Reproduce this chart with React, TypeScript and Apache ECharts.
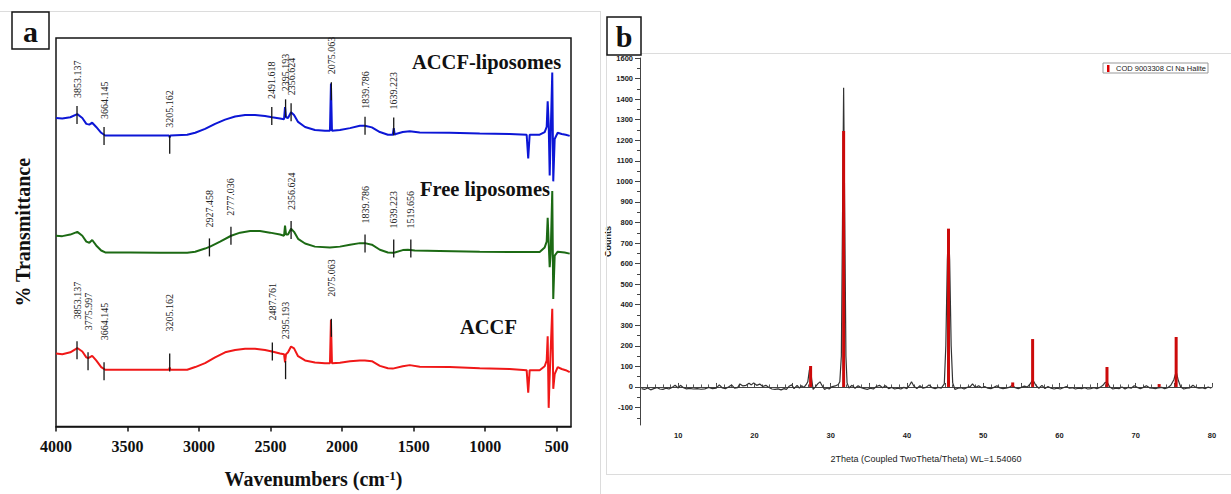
import React, { useEffect, useRef } from "react";
import * as echarts from "echarts";

// ---------- Panel a: FTIR spectra (wavenumber cm-1, relative transmittance, offset) ----------
const wnTicks = [4000, 3500, 3000, 2500, 2000, 1500, 1000, 500];

const accfLiposomes: [number, number][] = [
  [4000, 79.4], [3956, 79.3], [3900, 79.6], [3851, 80.4], [3816, 79.4], [3788, 77.9], [3767, 77.7],
  [3747, 78.2], [3719, 77.1], [3684, 75.6], [3656, 74.9], [3481, 74.9], [3272, 74.9], [3210, 74.9],
  [3205, 74.4], [3200, 74.9], [3083, 75.1], [3027, 75.6], [2958, 76.6], [2888, 77.9], [2818, 79.0],
  [2748, 79.8], [2678, 80.2], [2609, 80.2], [2539, 79.9], [2490, 79.6], [2434, 79.3], [2406, 79.1],
  [2399, 82.2], [2392, 79.6], [2378, 79.4], [2357, 80.9], [2336, 80.2], [2308, 78.4], [2259, 77.1],
  [2190, 76.3], [2120, 76.1], [2085, 76.1], [2078, 88.3], [2071, 76.1], [2015, 76.3], [1945, 76.8],
  [1876, 77.4], [1841, 77.4], [1792, 77.0], [1736, 75.8], [1680, 75.1], [1646, 75.1], [1639, 76.8],
  [1632, 75.1], [1625, 75.3], [1576, 75.8], [1527, 76.0], [1457, 75.7], [1248, 75.6], [1038, 75.4],
  [829, 75.3], [710, 75.1], [699, 69.0], [689, 75.1], [619, 75.1], [584, 75.8], [570, 77.1],
  [563, 83.7], [556, 77.9], [549, 64.6], [542, 75.3], [531, 91.1], [524, 63.1], [514, 74.0],
  [493, 75.6], [465, 75.3], [437, 75.1], [409, 74.8],
];

const freeLiposomes: [number, number][] = [
  [4000, 49.1], [3956, 49.0], [3900, 49.4], [3851, 50.1], [3816, 49.1], [3788, 47.6], [3767, 47.3],
  [3747, 48.0], [3719, 46.6], [3684, 45.3], [3656, 44.8], [3481, 44.8], [3272, 44.7], [3083, 44.7],
  [3027, 45.0], [2958, 45.8], [2923, 46.3], [2853, 47.6], [2776, 49.1], [2713, 49.9], [2643, 50.3],
  [2574, 50.3], [2504, 49.9], [2434, 49.4], [2406, 49.1], [2399, 51.7], [2392, 49.4], [2378, 49.4],
  [2357, 50.9], [2336, 50.1], [2308, 48.3], [2259, 47.1], [2190, 46.3], [2085, 46.1], [2015, 46.3],
  [1945, 46.8], [1876, 47.2], [1841, 47.2], [1792, 46.8], [1736, 45.5], [1680, 44.8], [1646, 44.7],
  [1632, 44.8], [1576, 45.4], [1540, 45.5], [1492, 45.3], [1318, 45.2], [1038, 45.0], [829, 44.9],
  [619, 44.9], [584, 46.1], [570, 47.6], [563, 53.7], [556, 47.3], [549, 41.0], [542, 44.5],
  [531, 60.6], [524, 32.8], [514, 44.0], [493, 45.0], [444, 44.8], [409, 44.5],
];

const accf: [number, number][] = [
  [4000, 18.8], [3956, 18.6], [3900, 19.1], [3851, 20.2], [3816, 19.3], [3788, 17.8], [3775, 17.6],
  [3747, 18.2], [3719, 17.0], [3684, 15.3], [3656, 14.6], [3481, 14.6], [3272, 14.6], [3210, 14.6],
  [3205, 15.2], [3200, 14.6], [3083, 14.6], [3027, 15.3], [2958, 16.3], [2888, 17.8], [2818, 19.1],
  [2748, 19.7], [2678, 20.0], [2609, 20.0], [2539, 19.7], [2490, 19.3], [2434, 18.8], [2406, 18.6],
  [2399, 16.5], [2392, 18.6], [2378, 19.1], [2357, 20.6], [2336, 20.1], [2308, 18.1], [2259, 17.0],
  [2190, 16.5], [2120, 16.3], [2085, 16.3], [2078, 27.5], [2071, 16.3], [2015, 16.4], [1945, 16.8],
  [1876, 17.0], [1841, 17.0], [1792, 16.8], [1736, 15.6], [1680, 15.0], [1646, 14.9], [1576, 15.5],
  [1527, 15.8], [1457, 15.4], [1248, 15.3], [1038, 15.0], [829, 14.8], [710, 14.5], [699, 8.7],
  [689, 14.5], [619, 14.5], [584, 15.5], [570, 17.0], [563, 23.2], [556, 4.8], [549, 13.0],
  [531, 30.3], [524, 9.7], [514, 13.5], [493, 15.3], [465, 14.8], [437, 14.5], [409, 14.0],
];

// peak annotations: [wavenumber, level on curve]
const accfLiposomePeaks: [number, number][] = [
  [3853.137, 80.2], [3664.145, 74.8], [3205.162, 72.5], [2491.618, 79.9], [2395.193, 81.9],
  [2356.624, 80.9], [2075.063, 86.3], [1839.786, 77.4], [1639.223, 77.2],
];
const freeLiposomePeaks: [number, number][] = [
  [2927.458, 46.1], [2777.036, 49.1], [2356.624, 50.6], [1839.786, 47.1], [1639.223, 45.8], [1519.656, 45.8],
];
const accfPeaks: [number, number][] = [
  [3853.137, 19.6], [3775.997, 16.8], [3664.145, 14.2], [3205.162, 16.5], [2487.761, 19.3],
  [2395.193, 14.5], [2075.063, 25.4],
];

// ---------- Panel b: XRD ----------
const thetaLabelTicks = [10, 20, 30, 40, 50, 60, 70, 80];
const thetaMajorTicks = [5, 10, 15, 20, 25, 30, 35, 40, 45, 50, 55, 60, 65, 70, 75, 80];
const thetaMinorTicks = [
  5, 6, 7, 8, 9, 10, 11, 12, 13, 14, 15, 16, 17, 18, 19, 20, 21, 22, 23, 24, 25, 26, 27, 28, 29, 30,
  31, 32, 33, 34, 35, 36, 37, 38, 39, 40, 41, 42, 43, 44, 45, 46, 47, 48, 49, 50, 51, 52, 53, 54, 55,
  56, 57, 58, 59, 60, 61, 62, 63, 64, 65, 66, 67, 68, 69, 70, 71, 72, 73, 74, 75, 76, 77, 78, 79, 80,
];
const countTicks = [-100, 0, 100, 200, 300, 400, 500, 600, 700, 800, 900, 1000, 1100, 1200, 1300, 1400, 1500, 1600];
const countMinorTicks = [-150, -50, 50, 150, 250, 350, 450, 550, 650, 750, 850, 950, 1050, 1150, 1250, 1350, 1450, 1550];

const xrdPattern: [number, number][] = [
  [5.2, -8], [5.6, -12], [6.0, -5], [6.4, -14], [6.8, -8], [7.2, -3], [7.6, -10], [8.0, -12], [8.4, -6],
  [8.8, -10], [9.2, -2], [9.6, 8], [10.0, -5], [10.3, 8], [10.7, -4], [11.1, -9], [11.5, -7], [12.0, -10],
  [12.5, -8], [13.0, -11], [13.5, -9], [14.0, -2], [14.5, -8], [15.0, -6], [15.4, 10], [15.8, -5],
  [16.2, -8], [16.6, 0], [17.0, 10], [17.4, -6], [17.8, -3], [18.1, 15], [18.5, 5], [18.9, 8], [19.3, 18],
  [19.6, 10], [19.9, 20], [20.3, 8], [20.7, 14], [21.1, 2], [21.5, 8], [21.9, -3], [22.3, -10], [22.7, -12],
  [23.1, -9], [23.5, -14], [23.9, -8], [24.2, -12], [24.6, 5], [24.9, 10], [25.2, -8], [25.6, 8], [25.9, -6],
  [26.2, 6], [26.5, -2], [26.8, 12], [27.0, 25], [27.2, 80], [27.35, 97], [27.5, 40], [27.7, -12], [28.0, 0],
  [28.3, 15], [28.6, 25], [28.9, 5], [29.2, -12], [29.5, -5], [29.8, -10], [30.2, 2], [30.6, 5], [31.0, 12],
  [31.2, 25], [31.4, 150], [31.55, 800], [31.7, 1455], [31.85, 800], [32.0, 150], [32.15, 20], [32.4, -5],
  [32.8, 8], [33.2, -6], [33.6, 6], [34.0, -4], [34.4, -8], [34.8, -12], [35.2, -6], [35.6, -10], [36.0, 2],
  [36.4, 8], [36.8, -4], [37.2, 6], [37.6, -8], [38.0, -2], [38.4, -10], [38.8, -6], [39.2, -10], [39.6, -2],
  [40.0, -8], [40.4, 12], [40.6, 25], [40.9, 5], [41.3, -8], [41.7, 6], [42.1, -6], [42.5, -2], [42.9, 10],
  [43.3, -4], [43.7, -8], [44.1, -2], [44.5, -6], [44.9, 15], [45.1, 200], [45.3, 620], [45.45, 760],
  [45.6, 620], [45.8, 200], [46.0, 20], [46.3, -12], [46.7, -6], [47.1, -4], [47.5, -10], [47.9, -2],
  [48.3, 2], [48.6, 15], [49.0, -3], [49.4, 6], [49.8, -4], [50.2, 2], [50.6, -6], [51.0, -8], [51.4, -2],
  [51.8, 6], [52.2, -5], [52.6, -8], [53.0, -6], [53.4, -2], [53.8, 8], [54.2, -4], [54.6, -8], [55.0, -2],
  [55.4, 4], [55.8, 0], [56.1, 12], [56.5, 35], [56.9, 8], [57.3, -6], [57.7, 8], [58.1, -8], [58.5, 2],
  [58.9, -6], [59.3, -10], [59.7, -6], [60.1, -10], [60.5, -4], [60.9, 2], [61.3, -6], [61.7, -4],
  [62.1, -10], [62.5, -6], [62.9, -8], [63.3, -4], [63.7, -10], [64.1, -8], [64.5, -4], [64.9, -8],
  [65.3, -2], [65.7, 8], [66.0, 22], [66.3, 20], [66.6, 0], [67.0, -10], [67.4, -6], [67.8, -8], [68.2, 0],
  [68.6, -10], [69.0, -2], [69.4, -6], [69.8, 6], [70.2, -2], [70.6, -8], [71.0, -2], [71.4, 6], [71.8, -4],
  [72.2, -6], [72.6, -8], [73.0, -4], [73.4, -2], [73.8, -8], [74.2, -4], [74.6, 8], [75.0, 35], [75.3, 75],
  [75.6, 30], [75.9, 0], [76.3, -10], [76.7, -6], [77.1, -4], [77.5, 8], [77.9, -2], [78.3, -6], [78.7, -4],
  [79.1, -8], [79.5, 0], [79.9, -6],
];

// COD 9003308 Cl Na Halite reference sticks
const haliteSticks: [number, number][] = [
  [27.37, 102], [31.7, 1245], [45.45, 770], [53.87, 22], [56.48, 233], [66.23, 97], [73.07, 14], [75.3, 243],
];

const SERIF = '"Liberation Serif", "Times New Roman", serif';
const SANS = '"Liberation Sans", Arial, sans-serif';
const plain = (v: number) => String(v);

function peakMarks(peaks: [number, number][], gap: number) {
  return {
    type: "custom",
    xAxisIndex: 0,
    yAxisIndex: 0,
    silent: true,
    clip: false,
    z: 6,
    data: peaks.map((p) => [p[0], p[1]]),
    encode: { x: 0, y: 1 },
    renderItem: (params: any, api: any) => {
      const pt = api.coord([api.value(0), api.value(1)]);
      const txt = peaks[params.dataIndex][0].toFixed(3);
      return {
        type: "group",
        children: [
          {
            type: "line",
            shape: { x1: pt[0], y1: pt[1] - 9, x2: pt[0], y2: pt[1] + 9 },
            style: { stroke: "#151515", lineWidth: 1.3 },
          },
          {
            type: "text",
            x: pt[0],
            y: pt[1] - 9 - gap,
            rotation: Math.PI / 2,
            style: {
              text: txt,
              fill: "#222",
              fontSize: 10,
              fontFamily: SERIF,
              align: "left",
              verticalAlign: "middle",
              textAlign: "left",
              textVerticalAlign: "middle",
            },
          },
        ],
      };
    },
  };
}

function gText(text: string, x: number, y: number, size: number, extra: any = {}) {
  return {
    type: "text",
    x,
    y,
    z: 20,
    style: {
      text,
      fill: "#111",
      fontSize: size,
      fontWeight: "bold",
      fontFamily: SERIF,
      align: "left",
      verticalAlign: "middle",
      textAlign: "left",
      textVerticalAlign: "middle",
      ...extra,
    },
  };
}

function gLine(x1: number, y1: number, x2: number, y2: number, color = "#dcdcdc") {
  return { type: "line", z: 1, shape: { x1, y1, x2, y2 }, style: { stroke: color, lineWidth: 1 } };
}

export default function App() {
  const ref = useRef<HTMLDivElement>(null);
  useEffect(() => {
    document.body.style.margin = "0";
    if (!ref.current) return;
    const chart = echarts.init(ref.current, undefined, { renderer: "svg" });
    const option: any = {
      animation: false,
      backgroundColor: "#fff",
      grid: [
        { left: 56, top: 38, width: 515, height: 393, show: true, borderColor: "#151515", borderWidth: 1.5, backgroundColor: "transparent" },
        { left: 640, top: 58, width: 572, height: 367 },
      ],
      xAxis: [
        {
          gridIndex: 0,
          type: "value",
          min: 400,
          max: 4000,
          inverse: true,
          axisLine: { show: true, lineStyle: { color: "#151515", width: 1.5 } },
          axisTick: { show: true, customValues: wnTicks, length: 5, lineStyle: { color: "#151515", width: 1.5 } },
          axisLabel: { customValues: wnTicks, formatter: plain, fontSize: 16, fontWeight: "bold", fontFamily: SERIF, color: "#111", margin: 12 },
          splitLine: { show: false },
          name: "Wavenumbers (cm{sup|-1})",
          nameLocation: "middle",
          nameGap: 42,
          nameTextStyle: {
            fontSize: 20,
            fontWeight: "bold",
            fontFamily: SERIF,
            color: "#111",
            rich: { sup: { fontSize: 13, fontWeight: "bold", fontFamily: SERIF, color: "#111", verticalAlign: "top", padding: [0, 0, 8, 0] } },
          },
        },
        {
          gridIndex: 1,
          type: "value",
          min: 5,
          max: 80,
          axisLine: { show: true, lineStyle: { color: "#444", width: 1 } },
          axisTick: { show: true, inside: true, customValues: thetaMajorTicks, length: 4, lineStyle: { color: "#444" } },
          axisLabel: { customValues: thetaLabelTicks, formatter: plain, fontSize: 7.5, fontWeight: "bold", fontFamily: SANS, color: "#222", margin: 6 },
          splitLine: { show: false },
          name: "2Theta (Coupled TwoTheta/Theta) WL=1.54060",
          nameLocation: "middle",
          nameGap: 29,
          nameTextStyle: { fontSize: 9, fontFamily: SANS, color: "#222" },
        },
        {
          gridIndex: 1,
          type: "value",
          min: 5,
          max: 80,
          position: "bottom",
          axisLine: { show: false },
          axisTick: { show: true, inside: true, customValues: thetaMinorTicks, length: 2.5, lineStyle: { color: "#555" } },
          axisLabel: { show: false },
          splitLine: { show: false },
        },
      ],
      yAxis: [
        {
          gridIndex: 0,
          type: "value",
          min: 0,
          max: 100,
          axisLine: { show: false },
          axisTick: { show: false },
          axisLabel: { show: false },
          splitLine: { show: false },
          name: "% Transmittance",
          nameLocation: "middle",
          nameGap: 23,
          nameTextStyle: { fontSize: 20, fontWeight: "bold", fontFamily: SERIF, color: "#111" },
        },
        {
          gridIndex: 1,
          type: "value",
          min: -185,
          max: 1600,
          axisLine: { show: true, lineStyle: { color: "#444", width: 1 } },
          axisTick: { show: true, customValues: countTicks, length: 5, lineStyle: { color: "#444" } },
          axisLabel: { customValues: countTicks, formatter: plain, fontSize: 7.5, fontWeight: "bold", fontFamily: SANS, color: "#222", margin: 7 },
          splitLine: { show: false },
          name: "Counts",
          nameLocation: "middle",
          nameGap: 24,
          nameTextStyle: { fontSize: 9, fontWeight: "bold", fontFamily: SANS, color: "#222" },
        },
        {
          gridIndex: 1,
          type: "value",
          min: -185,
          max: 1600,
          position: "left",
          axisLine: { show: false },
          axisTick: { show: true, customValues: countMinorTicks, length: 3, lineStyle: { color: "#444" } },
          axisLabel: { show: false },
          splitLine: { show: false },
        },
      ],
      series: [
        { type: "line", name: "ACCF-liposomes", xAxisIndex: 0, yAxisIndex: 0, data: accfLiposomes, showSymbol: false, lineStyle: { color: "#0c16d6", width: 2 }, z: 3 },
        { type: "line", name: "Free liposomes", xAxisIndex: 0, yAxisIndex: 0, data: freeLiposomes, showSymbol: false, lineStyle: { color: "#1c6a14", width: 2 }, z: 3 },
        { type: "line", name: "ACCF", xAxisIndex: 0, yAxisIndex: 0, data: accf, showSymbol: false, lineStyle: { color: "#f01818", width: 2 }, z: 3 },
        peakMarks(accfLiposomePeaks, 8),
        peakMarks(freeLiposomePeaks, 11),
        peakMarks(accfPeaks, 22),
        { type: "line", name: "XRD", xAxisIndex: 1, yAxisIndex: 1, data: xrdPattern, showSymbol: false, lineStyle: { color: "#333", width: 1.2 }, z: 3 },
        { type: "bar", name: "COD 9003308 Cl Na Halite", xAxisIndex: 1, yAxisIndex: 1, data: haliteSticks, barWidth: 3, itemStyle: { color: "#cc0a0a" }, z: 4 },
      ],
      graphic: [
        gLine(0, 11.5, 600, 11.5),
        gLine(600.5, 11, 600.5, 494),
        gLine(606.5, 53, 606.5, 474),
        gLine(606, 53.5, 1231, 53.5),
        gLine(606, 474.5, 1231, 474.5),
        { type: "rect", z: 15, shape: { x: 12, y: 12, width: 37, height: 37 }, style: { fill: "#fff", stroke: "#151515", lineWidth: 1.5 } },
        gText("a", 30.5, 31, 30, { align: "center", textAlign: "center" }),
        { type: "rect", z: 15, shape: { x: 607, y: 17, width: 34, height: 38 }, style: { fill: "#fff", stroke: "#151515", lineWidth: 1.5 } },
        gText("b", 624, 36, 30, { align: "center", textAlign: "center" }),
        gText("ACCF-liposomes", 412, 62, 20.5),
        gText("Free liposomes", 420, 189, 20.5),
        gText("ACCF", 460, 327, 20.5),
        { type: "rect", z: 15, shape: { x: 1103, y: 63, width: 105, height: 10 }, style: { fill: "#fff", stroke: "#999", lineWidth: 1 } },
        { type: "rect", z: 16, shape: { x: 1107, y: 65, width: 2.5, height: 7 }, style: { fill: "#d00" } },
        gText("COD 9003308 Cl Na Halite", 1116, 68.5, 7.5, { fontWeight: "normal", fontFamily: SANS, fill: "#222" }),
      ],
    };
    chart.setOption(option);
    return () => chart.dispose();
  }, []);
  return <div ref={ref} style={{ width: 1231, height: 494 }} />;
}
